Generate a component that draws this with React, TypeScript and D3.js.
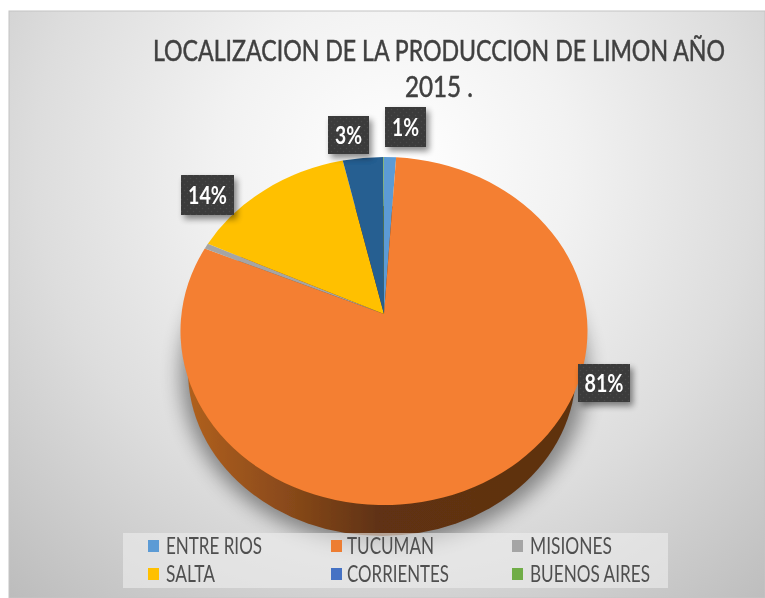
import React from "react";
import * as d3 from "d3";

const categories = ["ENTRE RIOS", "TUCUMAN", "MISIONES", "SALTA", "CORRIENTES", "BUENOS AIRES"];
const values = [0.95, 81.9, 0.5, 13.4, 3.2, 0.05];
const colors = ["#5b9bd5", "#f47f30", "#a5a5a5", "#ffc000", "#255e91", "#70ad47"];
const legendColors = ["#5b9bd5", "#ed7d31", "#a5a5a5", "#ffc000", "#4472c4", "#70ad47"];
const labelTexts = ["1%", "81%", "", "14%", "3%", ""];
const titleLines = ["LOCALIZACION DE LA PRODUCCION DE LIMON AÑO", "2015 ."];

const W = 765, H = 598;
const cx = 384, cy = 331, rx = 203.5, ry = 174, vx = 384, vy = 314;
const bx = 382, by = 371, brx = 194, bry = 165;
const labelBoxes: Record<string, [number, number, number, number, number]> = {
  "1%": [385, 107, 41, 40, 27],
  "81%": [578, 364, 52, 38, 39],
  "14%": [181, 175, 53, 40, 39],
  "3%": [328, 116, 41, 38, 27],
};
const legendSwatchX = [148, 331, 512];
const legendTextX = [166, 347, 530];
const legendSwatchY = [540, 568];
const legendBaseline = [554, 582];
const legendTextW = [96, 87, 82, 49, 102, 120];

export default function App() {
  const pie = d3.pie<number>().sort(null).startAngle(0).endAngle(2 * Math.PI);
  const arcs = pie(values);
  const px = (a: number) => cx + rx * Math.sin(a);
  const py = (a: number) => cy - ry * Math.cos(a);
  const slicePath = (s: number, e: number) => {
    const large = e - s > Math.PI ? 1 : 0;
    return `M${vx},${vy}L${px(s)},${py(s)}A${rx},${ry} 0 ${large} 1 ${px(e)},${py(e)}Z`;
  };
  return (
    <svg width={W} height={H} style={{ position: "absolute", left: 0, top: 0 }} fontFamily="Lato, 'Open Sans', sans-serif">
      <defs>
        <radialGradient id="bg" gradientUnits="userSpaceOnUse" cx={395} cy={165} r={580}>
          <stop offset="0" stopColor="#ffffff" />
          <stop offset="0.3" stopColor="#f2f2f2" />
          <stop offset="0.62" stopColor="#dddddd" />
          <stop offset="1" stopColor="#bcbcbc" />
        </radialGradient>
        <linearGradient id="side" gradientUnits="userSpaceOnUse" x1={188} x2={580} y1={0} y2={0}>
          <stop offset="0" stopColor="#b0601f" />
          <stop offset="0.25" stopColor="#8a4a1a" />
          <stop offset="0.48" stopColor="#613312" />
          <stop offset="1" stopColor="#5e3110" />
        </linearGradient>
        <filter id="blur" x="-30%" y="-30%" width="160%" height="160%"><feGaussianBlur stdDeviation="10" /></filter>
        <filter id="soft" x="-5%" y="-5%" width="110%" height="110%"><feGaussianBlur stdDeviation="0.55" /></filter>
        <filter id="boxShadow" x="-30%" y="-30%" width="160%" height="160%"><feGaussianBlur stdDeviation="3" /></filter>
        <pattern id="dots" width="6" height="6" patternUnits="userSpaceOnUse">
          <rect width="6" height="6" fill="#3a3a3a" />
          <circle cx="1.5" cy="1.5" r="0.8" fill="#4a4a4a" />
          <circle cx="4.5" cy="4.5" r="0.8" fill="#4a4a4a" />
        </pattern>
      </defs>
      <rect x={0} y={0} width={W} height={H} fill="#ffffff" />
      <g filter="url(#soft)">
        <rect x={9} y={11} width={W - 9} height={H - 11} fill="url(#bg)" stroke="#c4c4c4" strokeWidth={1} />
        {titleLines.map((t, i) => (
          <text key={t} x={439} y={61 + i * 36} textAnchor="middle" fontSize={28} fill="#404040" stroke="#404040" strokeWidth={0.5}
            textLength={i === 0 ? 572 : 68} lengthAdjust="spacingAndGlyphs">{t}</text>
        ))}
        <ellipse cx={bx + 2} cy={by + 2} rx={brx + 9} ry={bry + 7} fill="#000" opacity={0.42} filter="url(#blur)" />
        <ellipse cx={bx} cy={by} rx={brx} ry={bry} fill="url(#side)" />
        {arcs.map((a, i) => (
          <path key={categories[i]} d={slicePath(a.startAngle, a.endAngle)} fill={colors[i]} />
        ))}
        <rect x={123} y={533} width={545} height={55} fill="#efefef" opacity={0.6} />
        {categories.map((c, i) => {
          const col = i % 3, row = Math.floor(i / 3);
          return (
            <g key={c}>
              <rect x={legendSwatchX[col]} y={legendSwatchY[row]} width={11} height={12} fill={legendColors[i]} />
              <text x={legendTextX[col]} y={legendBaseline[row]} fontSize={23} fill="#505050" textLength={legendTextW[i]} lengthAdjust="spacingAndGlyphs">{c}</text>
            </g>
          );
        })}
        {labelTexts.filter(Boolean).map((t) => {
          const [x, y, w, h, tw] = labelBoxes[t];
          return (
            <g key={t}>
              <rect x={x + 3} y={y + 4} width={w} height={h} fill="#000" opacity={0.45} filter="url(#boxShadow)" />
              <rect x={x} y={y} width={w} height={h} fill="url(#dots)" />
              <text x={x + w / 2} y={y + h / 2 + 8.5} textAnchor="middle" fontSize={24.5} fontWeight={700} fill="#ffffff" textLength={tw} lengthAdjust="spacingAndGlyphs">{t}</text>
            </g>
          );
        })}
      </g>
    </svg>
  );
}
